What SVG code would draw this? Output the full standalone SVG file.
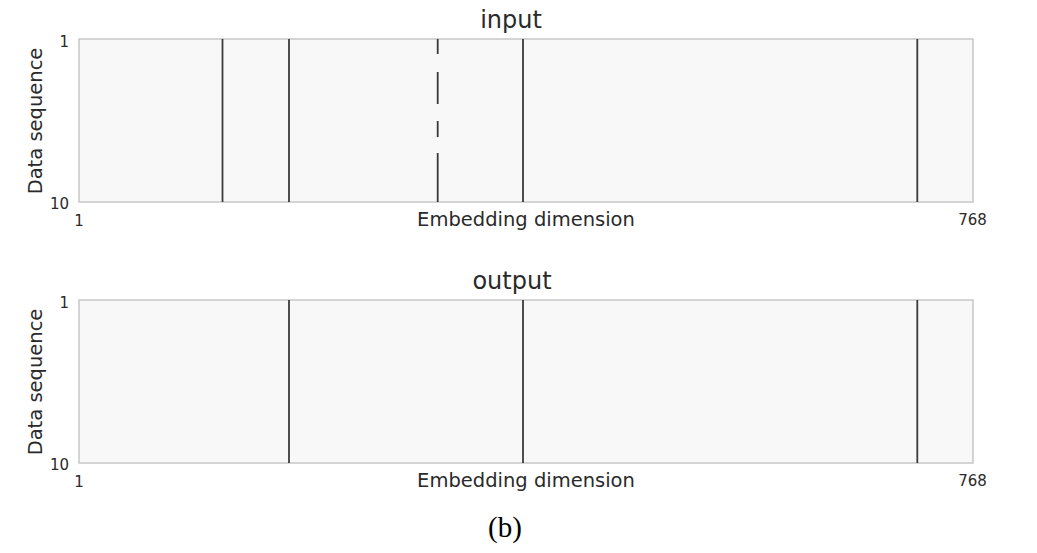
<svg xmlns="http://www.w3.org/2000/svg" width="1037" height="553" viewBox="0 0 1037 553">
<style>
.frame{fill:#f8f8f8;stroke:#c4c4c4;stroke-width:1.4}
.bar{stroke:#3a3a3a;stroke-width:1.8;fill:none}
.t{font-family:"DejaVu Sans",sans-serif;fill:#2a2a2a}
.title{font-size:24px;text-anchor:middle}
.lab{font-size:19.5px;text-anchor:middle}
.tick{font-size:15px}
</style>
<rect width="1037" height="553" fill="#ffffff"/>
<g id="panel-input">
<rect class="frame" x="79" y="39" width="894" height="163"/>
<line class="bar" x1="222.5" y1="39" x2="222.5" y2="202"/>
<line class="bar" x1="289" y1="39" x2="289" y2="202"/>
<path class="bar" d="M437.7 39V54M437.7 72V104M437.7 121V137M437.7 153V202"/>
<line class="bar" x1="523" y1="39" x2="523" y2="202"/>
<line class="bar" x1="917.3" y1="39" x2="917.3" y2="202"/>
<text class="t title" x="511" y="28">input</text>
<text class="t lab" x="526" y="226">Embedding dimension</text>
<text class="t lab" transform="translate(42,121) rotate(-90)">Data sequence</text>
<text class="t tick" x="69" y="47" text-anchor="end">1</text>
<text class="t tick" x="69" y="209" text-anchor="end">10</text>
<text class="t tick" x="79" y="226" text-anchor="middle">1</text>
<text class="t tick" x="972.5" y="225" text-anchor="middle">768</text>
</g>
<g id="panel-output">
<rect class="frame" x="79" y="300" width="894" height="163"/>
<line class="bar" x1="289" y1="300" x2="289" y2="463"/>
<line class="bar" x1="523" y1="300" x2="523" y2="463"/>
<line class="bar" x1="917.3" y1="300" x2="917.3" y2="463"/>
<text class="t title" x="512" y="289">output</text>
<text class="t lab" x="526" y="487">Embedding dimension</text>
<text class="t lab" transform="translate(42,382) rotate(-90)">Data sequence</text>
<text class="t tick" x="69" y="308" text-anchor="end">1</text>
<text class="t tick" x="69" y="470" text-anchor="end">10</text>
<text class="t tick" x="79" y="487" text-anchor="middle">1</text>
<text class="t tick" x="972.5" y="486" text-anchor="middle">768</text>
</g>
<text x="505" y="537" font-family="Liberation Serif,serif" font-size="29" text-anchor="middle" fill="#000">(b)</text>
</svg>
